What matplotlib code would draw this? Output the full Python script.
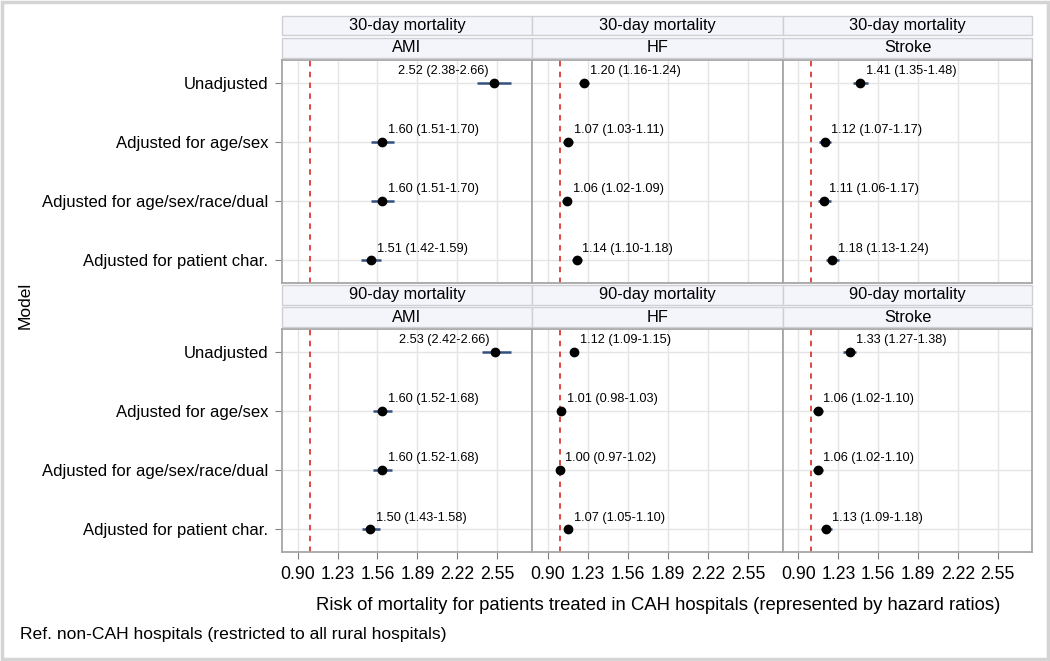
import matplotlib
matplotlib.use('Agg')
import matplotlib.pyplot as plt
from matplotlib.patches import Rectangle

plt.rcParams['font.family'] = ['Liberation Sans', 'DejaVu Sans']

# Dados
modelos = ['Unadjusted', 'Adjusted for age/sex', 'Adjusted for age/sex/race/dual',
           'Adjusted for patient char.']
mortalidade = ['30-day mortality', '90-day mortality']
condicoes = ['AMI', 'HF', 'Stroke']

# 30 dias
hr_30_ami = [2.52, 1.60, 1.60, 1.51]
lo_30_ami = [2.38, 1.51, 1.51, 1.42]
hi_30_ami = [2.66, 1.70, 1.70, 1.59]
hr_30_hf = [1.20, 1.07, 1.06, 1.14]
lo_30_hf = [1.16, 1.03, 1.02, 1.10]
hi_30_hf = [1.24, 1.11, 1.09, 1.18]
hr_30_stroke = [1.41, 1.12, 1.11, 1.18]
lo_30_stroke = [1.35, 1.07, 1.06, 1.13]
hi_30_stroke = [1.48, 1.17, 1.17, 1.24]

# 90 dias
hr_90_ami = [2.53, 1.60, 1.60, 1.50]
lo_90_ami = [2.42, 1.52, 1.52, 1.43]
hi_90_ami = [2.66, 1.68, 1.68, 1.58]
hr_90_hf = [1.12, 1.01, 1.00, 1.07]
lo_90_hf = [1.09, 0.98, 0.97, 1.05]
hi_90_hf = [1.15, 1.03, 1.02, 1.10]
hr_90_stroke = [1.33, 1.06, 1.06, 1.13]
lo_90_stroke = [1.27, 1.02, 1.02, 1.09]
hi_90_stroke = [1.38, 1.10, 1.10, 1.18]

ticks_x = [0.90, 1.23, 1.56, 1.89, 2.22, 2.55]
linha_ref = 1.0

dados = {
    (0, 0): (hr_30_ami, lo_30_ami, hi_30_ami),
    (0, 1): (hr_30_hf, lo_30_hf, hi_30_hf),
    (0, 2): (hr_30_stroke, lo_30_stroke, hi_30_stroke),
    (1, 0): (hr_90_ami, lo_90_ami, hi_90_ami),
    (1, 1): (hr_90_hf, lo_90_hf, hi_90_hf),
    (1, 2): (hr_90_stroke, lo_90_stroke, hi_90_stroke),
}

W, H = 1050, 661
fig = plt.figure(figsize=(W / 100, H / 100), dpi=100)
fig.patch.set_facecolor('white')

# Borda externa
fig.add_artist(Rectangle((0.002, 0.003), 0.996, 0.994, transform=fig.transFigure,
                         fill=False, edgecolor='#d4d4d4', linewidth=2.5))


def caixa(x0, y0, x1, y1):
    # converte pixels (topo-esquerda) para coordenadas da figura
    return [x0 / W, 1 - y1 / H, (x1 - x0) / W, (y1 - y0) / H]


colunas_x = [(282, 532), (532, 783), (783, 1032)]
linhas_y = [(60, 283), (329, 552)]
faixas_y = [((16, 35), (38, 58)), ((285, 305), (307, 327))]

cor_borda = '#a6a6a6'
cor_faixa = '#f4f4fb'
cor_barra = '#34507f'

for i in range(2):
    for j in range(3):
        x0, x1 = colunas_x[j]
        y0, y1 = linhas_y[i]
        ax = fig.add_axes(caixa(x0, y0, x1, y1))
        hr, lo, hi = dados[(i, j)]
        ypos = list(range(len(modelos)))

        ax.set_xlim(0.772, 2.835)
        ax.set_ylim(3.38, -0.38)
        ax.set_xticks(ticks_x)
        ax.set_yticks(ypos)
        ax.grid(True, color='#e4e4e4', linewidth=1)
        ax.set_axisbelow(True)

        ax.axvline(linha_ref, color='#dc3a36', linestyle=(0, (3, 3)), linewidth=1.3, zorder=2)
        ax.hlines(ypos, lo, hi, color=cor_barra, linewidth=1.8, zorder=3)
        ax.plot(hr, ypos, 'o', color='black', markersize=6, zorder=4)

        for k in range(len(hr)):
            rotulo = f'{hr[k]:.2f} ({lo[k]:.2f}-{hi[k]:.2f})'
            if hr[k] > 2.2:
                ax.annotate(rotulo, (hr[k], ypos[k]), xytext=(-4, 8.5), textcoords='offset points',
                            ha='right', va='center', fontsize=9.2)
            else:
                ax.annotate(rotulo, (hr[k], ypos[k]), xytext=(4, 8.5), textcoords='offset points',
                            ha='left', va='center', fontsize=9.2)

        for lado in ax.spines.values():
            lado.set_color(cor_borda)
            lado.set_linewidth(1.3)

        ax.tick_params(axis='both', color='#808080', length=5, pad=5)
        ax.tick_params(axis='y', labelsize=12)
        ax.tick_params(axis='x', labelsize=12.7)
        if j == 0:
            ax.set_yticklabels(modelos)
        else:
            ax.tick_params(axis='y', length=0, labelleft=False)
        if i == 1:
            ax.set_xticklabels([f'{t:.2f}' for t in ticks_x])
        else:
            ax.tick_params(axis='x', length=0, labelbottom=False)

        # Faixas de título (mortalidade / condição)
        textos = [mortalidade[i], condicoes[j]]
        for (fy0, fy1), txt in zip(faixas_y[i], textos):
            fig.add_artist(Rectangle((x0 / W, 1 - fy1 / H), (x1 - x0) / W, (fy1 - fy0) / H,
                                     transform=fig.transFigure, facecolor=cor_faixa,
                                     edgecolor='#cfcfd6', linewidth=1))
            fig.text((x0 + x1) / 2 / W, 1 - (fy0 + fy1) / 2 / H, txt, ha='center',
                     va='center', fontsize=11.8)

fig.text(658 / W, 1 - 605 / H, 'Risk of mortality for patients treated in CAH hospitals '
         '(represented by hazard ratios)', ha='center', va='center', fontsize=13.3)
fig.text(25 / W, 1 - 305 / H, 'Model', ha='center', va='center', rotation=90, fontsize=12.5)
fig.text(20 / W, 1 - 634 / H, 'Ref. non-CAH hospitals (restricted to all rural hospitals)',
         ha='left', va='center', fontsize=12.6)

fig.savefig('out.png', dpi=100, facecolor='white')
